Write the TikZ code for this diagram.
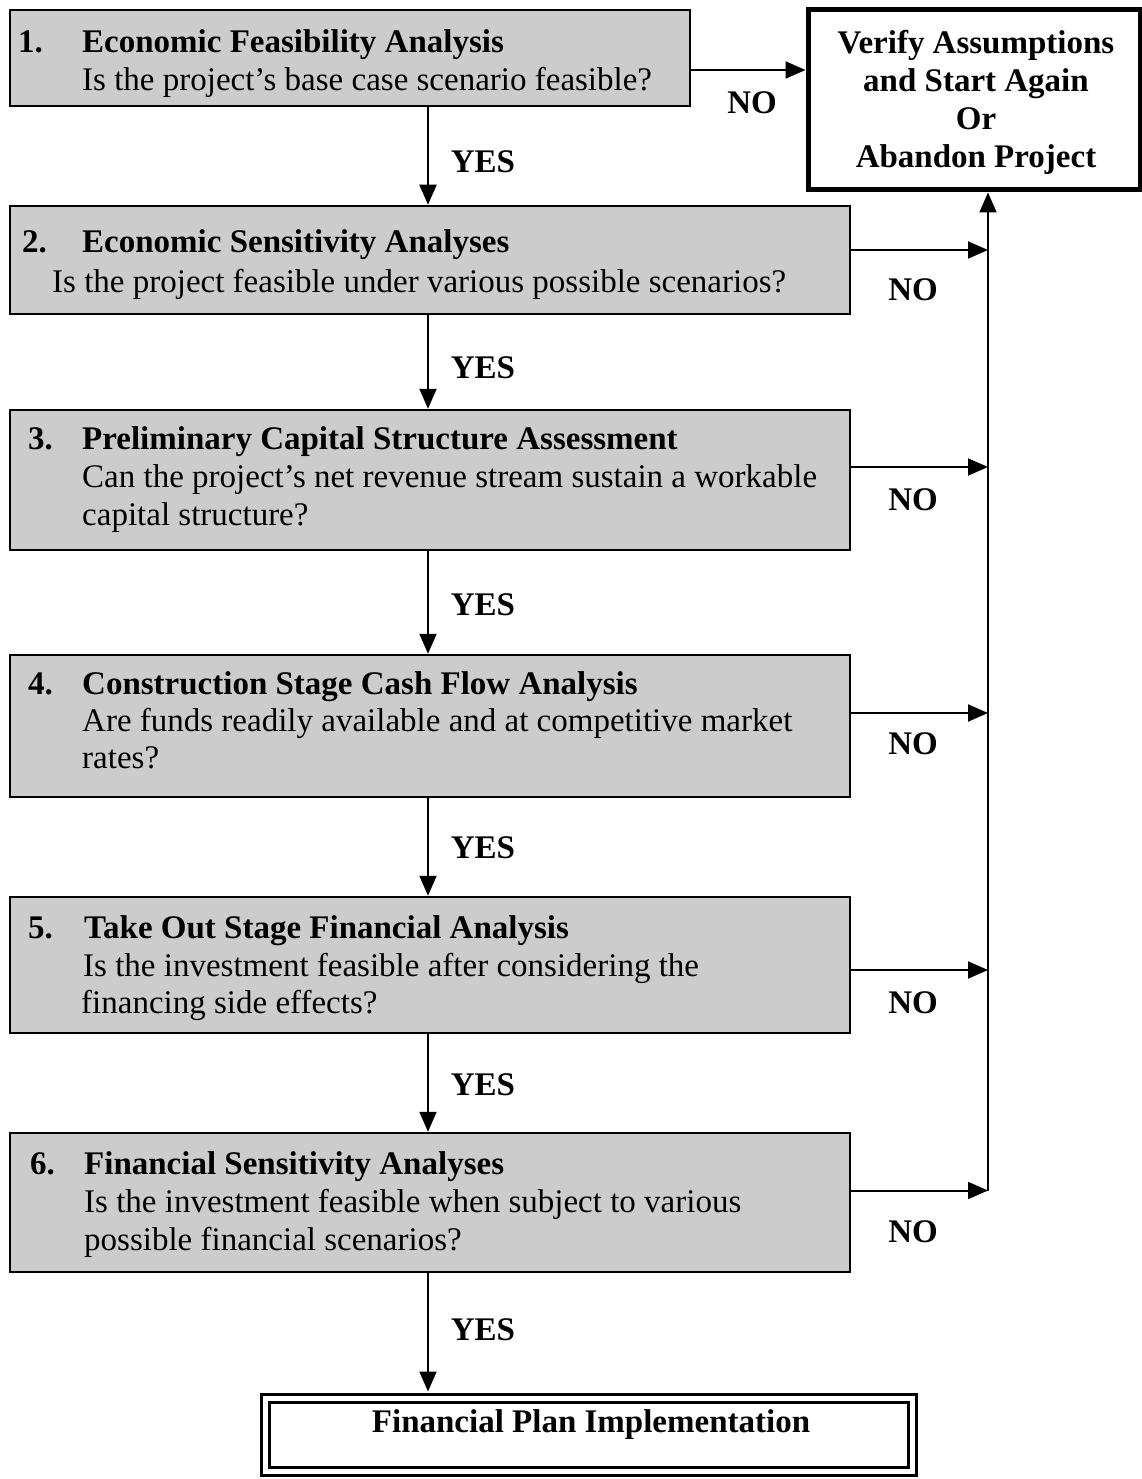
\documentclass[tikz,border=0pt]{standalone}
\usepackage{fontspec}
\setmainfont{Liberation Serif}
\usetikzlibrary{arrows.meta}
\begin{document}
\begin{tikzpicture}[x=1pt,y=-1pt,
  stepbox/.style={draw, line width=2.5pt, fill=black!20, inner sep=0pt},
  txt/.style={anchor=base west, inner sep=0pt, font=\fontsize{33}{38}\selectfont},
  ttl/.style={anchor=base west, inner sep=0pt, font=\fontsize{33}{38}\selectfont\bfseries},
  lbl/.style={inner sep=0pt, font=\fontsize{33}{38}\selectfont\bfseries},
  flow/.style={line width=2pt, -{Triangle[length=20pt,width=17pt]}}]
\useasboundingbox (0,0) rectangle (1142,1479);

% decision steps
\node[stepbox, minimum width=680pt, minimum height=96pt]  (b1) at (350,58) {};
\node[stepbox, minimum width=840pt, minimum height=108pt] (b2) at (430,260) {};
\node[stepbox, minimum width=840pt, minimum height=140pt] (b3) at (430,480) {};
\node[stepbox, minimum width=840pt, minimum height=142pt] (b4) at (430,726) {};
\node[stepbox, minimum width=840pt, minimum height=136pt] (b5) at (430,965) {};
\node[stepbox, minimum width=840pt, minimum height=139pt] (b6) at (430,1202.5) {};

% step texts
\node[ttl] (n1) at (18,53) {1.};
\node[ttl] (t1) at (82,53) {Economic Feasibility Analysis};
\node[txt] (q1) at (82,91) {Is the project’s base case scenario feasible?};

\node[ttl] (n2) at (22,252) {2.};
\node[ttl] (t2) at (82,252) {Economic Sensitivity Analyses};
\node[txt] (q2) at (52,292) {Is the project feasible under various possible scenarios?};

\node[ttl] (n3) at (28,449) {3.};
\node[ttl] (t3) at (82,449) {Preliminary Capital Structure Assessment};
\node[txt] (q3a) at (82,487) {Can the project’s net revenue stream sustain a workable};
\node[txt] (q3b) at (82,525) {capital structure?};

\node[ttl] (n4) at (28,694) {4.};
\node[ttl] (t4) at (82,694) {Construction Stage Cash Flow Analysis};
\node[txt] (q4a) at (82,731) {Are funds readily available and at competitive market};
\node[txt] (q4b) at (82,768) {rates?};

\node[ttl] (n5) at (28,938) {5.};
\node[ttl] (t5) at (84,938) {Take Out Stage Financial Analysis};
\node[txt] (q5a) at (83,976) {Is the investment feasible after considering the};
\node[txt] (q5b) at (81,1013) {financing side effects?};

\node[ttl] (n6) at (30,1174) {6.};
\node[ttl] (t6) at (84,1174) {Financial Sensitivity Analyses};
\node[txt] (q6a) at (84,1212) {Is the investment feasible when subject to various};
\node[txt] (q6b) at (84,1250) {possible financial scenarios?};

% outcome boxes
\node[draw, line width=5pt, minimum width=332pt, minimum height=180pt, inner sep=0pt] (vf) at (974,100) {};
\node[lbl, align=center] (vt) at (976,102) {Verify Assumptions\\and Start Again\\Or\\Abandon Project};

\node[draw, double, line width=3pt, double distance=5pt, minimum width=647pt, minimum height=73pt, inner sep=0pt] (fin) at (589,1435) {};
\node[lbl] (ft) at (591,1425) {Financial Plan Implementation};

% connector columns
\coordinate (yx) at (428,0);
\coordinate (tx) at (988,0);

% YES flow
\draw[flow] (b1.south -| yx) -- (b2.north -| yx);
\draw[flow] (b2.south -| yx) -- (b3.north -| yx);
\draw[flow] (b3.south -| yx) -- (b4.north -| yx);
\draw[flow] (b4.south -| yx) -- (b5.north -| yx);
\draw[flow] (b5.south -| yx) -- (b6.north -| yx);
\draw[flow] (b6.south -| yx) -- ([yshift=5.5pt]fin.north -| yx);

\node[lbl] (y1) at (483,162) {YES};
\node[lbl] (y2) at (483,368) {YES};
\node[lbl] (y3) at (483,605) {YES};
\node[lbl] (y4) at (483,848) {YES};
\node[lbl] (y5) at (483,1085) {YES};
\node[lbl] (y6) at (483,1330) {YES};

% NO flow
\draw[flow] ([yshift=-12pt]b1.east) -- ([yshift=-12pt]b1.east -| vf.west);
\draw[flow] ([yshift=10pt]b2.east) -- ([yshift=10pt]b2.east -| tx);
\draw[flow] ([yshift=13pt]b3.east) -- ([yshift=13pt]b3.east -| tx);
\draw[flow] ([yshift=13pt]b4.east) -- ([yshift=13pt]b4.east -| tx);
\draw[flow] ([yshift=-5pt]b5.east) -- ([yshift=-5pt]b5.east -| tx);
\draw[flow] ([yshift=12pt]b6.east) -- ([yshift=12pt]b6.east -| tx);
\draw[flow] ([yshift=12pt]b6.east -| tx) -- (vf.south -| tx);

\node[lbl] (o1) at (752,103) {NO};
\node[lbl] (o2) at (913,290) {NO};
\node[lbl] (o3) at (913,500) {NO};
\node[lbl] (o4) at (913,744) {NO};
\node[lbl] (o5) at (913,1003) {NO};
\node[lbl] (o6) at (913,1232) {NO};
\end{tikzpicture}
\end{document}
